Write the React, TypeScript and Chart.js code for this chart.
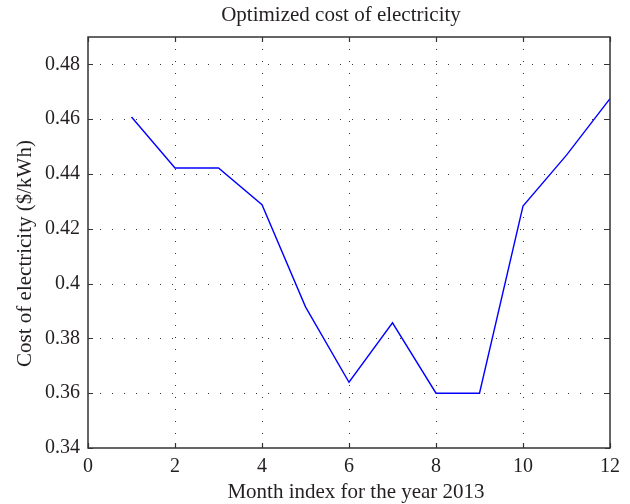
import { useEffect, useRef } from "react";
import { Chart, registerables } from "chart.js";

Chart.register(...registerables);

const MONTHS = [1, 2, 3, 4, 5, 6, 7, 8, 9, 10, 11, 12];
const COST = [0.4608, 0.4422, 0.4422, 0.4288, 0.3915, 0.364, 0.3857, 0.36, 0.36, 0.4283, 0.4469, 0.4675];
const X_TICKS = [0, 2, 4, 6, 8, 10, 12];
const Y_TICKS = [0.34, 0.36, 0.38, 0.4, 0.42, 0.44, 0.46, 0.48];

const TITLE = "Optimized cost of electricity";
const X_TITLE = "Month index for the year 2013";
const Y_TITLE = "Cost of electricity ($/kWh)";

const FONT_FAMILY = "'Liberation Serif', 'Times New Roman', serif";
const TEXT_COLOR = "#231f20";

const framePlugin = {
  id: "frame",
  beforeDatasetsDraw(chart: any) {
    const { ctx, chartArea: a, scales } = chart;
    const x = scales.x;
    const y = scales.y;
    ctx.save();
    ctx.strokeStyle = "#333";
    ctx.lineWidth = 1;
    ctx.setLineDash([1, 11]);
    X_TICKS.slice(1, -1).forEach((v) => {
      const px = Math.round(x.getPixelForValue(v)) + 0.5;
      ctx.beginPath();
      ctx.moveTo(px, a.top);
      ctx.lineTo(px, a.bottom);
      ctx.stroke();
    });
    Y_TICKS.slice(1).forEach((v) => {
      const py = Math.round(y.getPixelForValue(v)) + 0.5;
      ctx.beginPath();
      ctx.moveTo(a.left, py);
      ctx.lineTo(a.right, py);
      ctx.stroke();
    });
    ctx.restore();
  },
  afterDatasetsDraw(chart: any) {
    const { ctx, chartArea: a, scales } = chart;
    const x = scales.x;
    const y = scales.y;
    ctx.save();
    ctx.setLineDash([]);
    ctx.strokeStyle = "#333";
    ctx.lineWidth = 1.5;
    ctx.strokeRect(a.left, a.top, a.right - a.left, a.bottom - a.top);
    ctx.lineWidth = 1.2;
    const tl = 5;
    X_TICKS.forEach((v) => {
      const px = Math.round(x.getPixelForValue(v)) + 0.5;
      ctx.beginPath();
      ctx.moveTo(px, a.bottom);
      ctx.lineTo(px, a.bottom - tl);
      ctx.moveTo(px, a.top);
      ctx.lineTo(px, a.top + tl);
      ctx.stroke();
    });
    Y_TICKS.forEach((v) => {
      const py = Math.round(y.getPixelForValue(v)) + 0.5;
      ctx.beginPath();
      ctx.moveTo(a.left, py);
      ctx.lineTo(a.left + tl, py);
      ctx.moveTo(a.right, py);
      ctx.lineTo(a.right - tl, py);
      ctx.stroke();
    });

    // titles
    ctx.fillStyle = TEXT_COLOR;
    ctx.font = `normal 21px ${FONT_FAMILY}`;
    ctx.textAlign = "center";
    ctx.textBaseline = "alphabetic";
    ctx.fillText(TITLE, 341, 21);
    ctx.fillText(X_TITLE, 356, 498);
    ctx.translate(31, 253.5);
    ctx.rotate(-Math.PI / 2);
    ctx.fillText(Y_TITLE, 0, 0);
    ctx.restore();
  },
};

export default function App() {
  const canvasRef = useRef<HTMLCanvasElement | null>(null);

  useEffect(() => {
    const canvas = canvasRef.current;
    if (!canvas) return;
    const font = { family: FONT_FAMILY, size: 20, weight: "normal" as const };
    const chart = new Chart(canvas, {
      type: "line",
      data: {
        datasets: [
          {
            data: MONTHS.map((m, i) => ({ x: m, y: COST[i] })),
            borderColor: "#0000ff",
            borderWidth: 1.4,
            pointRadius: 0,
            tension: 0,
            fill: false,
          },
        ],
      },
      options: {
        animation: false,
        responsive: false,
        devicePixelRatio: 1,
        layout: { padding: { left: 0, right: 20, top: 37, bottom: 0 } },
        plugins: {
          legend: { display: false },
          tooltip: { enabled: false },
          title: { display: false },
        },
        scales: {
          x: {
            type: "linear",
            min: 0,
            max: 12,
            afterBuildTicks: (s: any) => {
              s.ticks = X_TICKS.map((v) => ({ value: v }));
            },
            afterFit: (s: any) => {
              s.height = 56;
            },
            grid: { display: false, drawTicks: false },
            border: { display: false },
            ticks: {
              color: TEXT_COLOR,
              font,
              padding: 7,
              maxRotation: 0,
              autoSkip: false,
              callback: (v: any) => String(v),
            },
            title: { display: false },
          },
          y: {
            type: "linear",
            min: 0.34,
            max: 0.49,
            afterBuildTicks: (s: any) => {
              s.ticks = Y_TICKS.map((v) => ({ value: v }));
            },
            afterFit: (s: any) => {
              s.width = 88;
            },
            grid: { display: false, drawTicks: false },
            border: { display: false },
            ticks: {
              color: TEXT_COLOR,
              font,
              padding: 8,
              autoSkip: false,
              callback: (v: any) => String(+Number(v).toFixed(4)),
            },
            title: { display: false },
          },
        },
      },
      plugins: [framePlugin],
    });
    return () => chart.destroy();
  }, []);

  return (
    <div style={{ position: "absolute", left: 0, top: 0, width: 630, height: 504, background: "#fff" }}>
      <canvas ref={canvasRef} width={630} height={504} style={{ display: "block" }} />
    </div>
  );
}
